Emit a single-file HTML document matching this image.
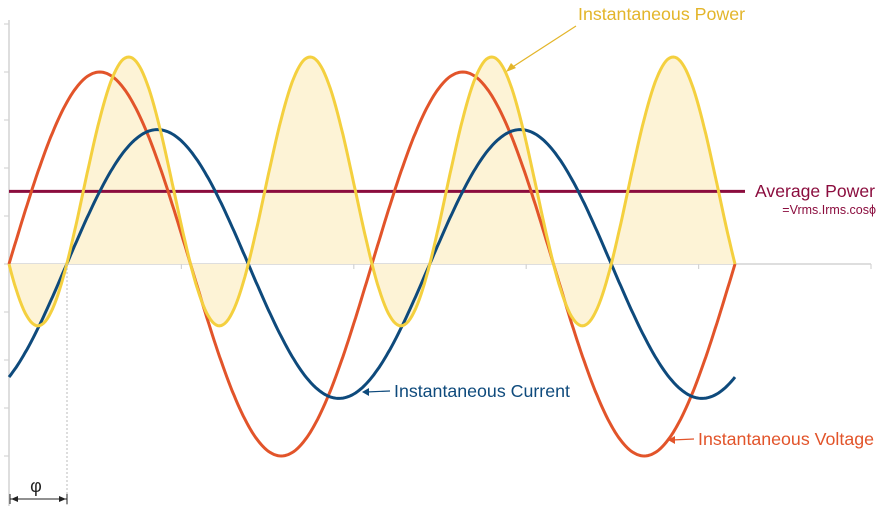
<!DOCTYPE html>
<html><head><meta charset="utf-8"><style>
html,body{margin:0;padding:0;background:#fff;}
svg{display:block;font-family:"Liberation Sans",Arial,sans-serif;}
</style></head><body>
<svg id="chart" width="884" height="524" viewBox="0 0 884 524" xmlns="http://www.w3.org/2000/svg">
<g id="axes"></g>
<g id="series"></g>
<g id="labels">
<text x="578" y="20" font-size="17.8" fill="#e3b52a">Instantaneous Power</text>
<line x1="576" y1="26" x2="508" y2="70" stroke="#e3b52a" stroke-width="1.2"/>
<polygon points="506,72 511,63 516,68" fill="#e3b52a"/>
<text x="755" y="197" font-size="17.6" fill="#8b0d3e">Average Power</text>
<text x="876" y="214" font-size="12.5" fill="#8b0d3e" text-anchor="end">=Vrms.Irms.cosϕ</text>
<text x="394" y="397" font-size="17.8" fill="#0e4a7c">Instantaneous Current</text>
<line x1="390" y1="391" x2="366" y2="392" stroke="#0e4a7c" stroke-width="1.2"/>
<polygon points="362,392 369,388 369,396" fill="#0e4a7c"/>
<text x="698" y="445" font-size="17.8" fill="#e2542a">Instantaneous Voltage</text>
<line x1="694" y1="439" x2="672" y2="440" stroke="#e2542a" stroke-width="1.2"/>
<polygon points="668,440 675,436 675,444" fill="#e2542a"/>
<line x1="67" y1="264" x2="67" y2="505" stroke="#bbb" stroke-width="1" stroke-dasharray="2,2"/>
<line x1="10" y1="499" x2="67" y2="499" stroke="#222" stroke-width="1"/>
<line x1="10" y1="494" x2="10" y2="504" stroke="#222"/>
<line x1="67" y1="494" x2="67" y2="504" stroke="#222"/>
<polygon points="11,499 18,496 18,502" fill="#222"/>
<polygon points="66,499 59,496 59,502" fill="#222"/>
<text x="36" y="492" font-size="18" fill="#222" text-anchor="middle">φ</text>
</g>
</svg>
<script>
// waveform parameters
const voltageAmplitude = [1.0];
const currentAmplitude = [0.70];
const phaseShiftRad = [1.0];
const cyclesShown = [2.0];
const powerScale = [2.0];
const yTicks = [-4,-3,-2,-1,0,1,2,3,4,5];
const xTicks = [1,2,3,4,5];

const NS="http://www.w3.org/2000/svg";
const x0=9, periodPx=363, y0=264, unitPx=192;
const xScale=t=>x0+t*periodPx;
const yScale=v=>y0-v*unitPx;
const axes=document.getElementById('axes'), ser=document.getElementById('series');
function mk(tag,attrs,parent){const e=document.createElementNS(NS,tag);for(const k in attrs)e.setAttribute(k,attrs[k]);parent.appendChild(e);return e;}

let a=mk('line',{x1:9,y1:20,x2:9,y2:506,stroke:'#d4d4d4','stroke-width':1.5},axes);

a=mk('line',{x1:9,y1:264,x2:871,y2:264,stroke:'#d4d4d4','stroke-width':1.5},axes);

yTicks.forEach(k=>{const y=y0-k*48;const t=mk('line',{x1:4,y1:y,x2:9,y2:y,stroke:'#d4d4d4','stroke-width':1.2},axes);
});
xTicks.forEach(k=>{const x=x0+k*172.4;const t=mk('line',{x1:x,y1:264,x2:x,y2:269,stroke:'#d4d4d4','stroke-width':1.2},axes);
});

const V=voltageAmplitude[0], I=currentAmplitude[0], ph=phaseShiftRad[0], C=cyclesShown[0], K=powerScale[0];
const N=400;
const vf=t=>V*Math.sin(2*Math.PI*t), cf=t=>I*Math.sin(2*Math.PI*t-ph), pf=t=>vf(t)*cf(t)*K;
function path(f){let d='';for(let i=0;i<=N;i++){const t=i/N*C;d+=(i?'L':'M')+xScale(t).toFixed(1)+','+yScale(f(t)).toFixed(1);}return d;}

let p=mk('path',{d:path(pf)+'L'+xScale(C)+','+y0+'L'+x0+','+y0+'Z',fill:'#fdf3d6',stroke:'none'},ser);

const avg=V*I*Math.cos(ph)/2*K;
p=mk('line',{x1:9,y1:yScale(avg),x2:745,y2:yScale(avg),stroke:'#8b0d3e','stroke-width':3},ser);

p=mk('path',{d:path(vf),fill:'none',stroke:'#e2542a','stroke-width':3},ser);

p=mk('path',{d:path(cf),fill:'none',stroke:'#0e4a7c','stroke-width':3},ser);

p=mk('path',{d:path(pf),fill:'none',stroke:'#f4d03f','stroke-width':3},ser);

</script>
</body></html>
